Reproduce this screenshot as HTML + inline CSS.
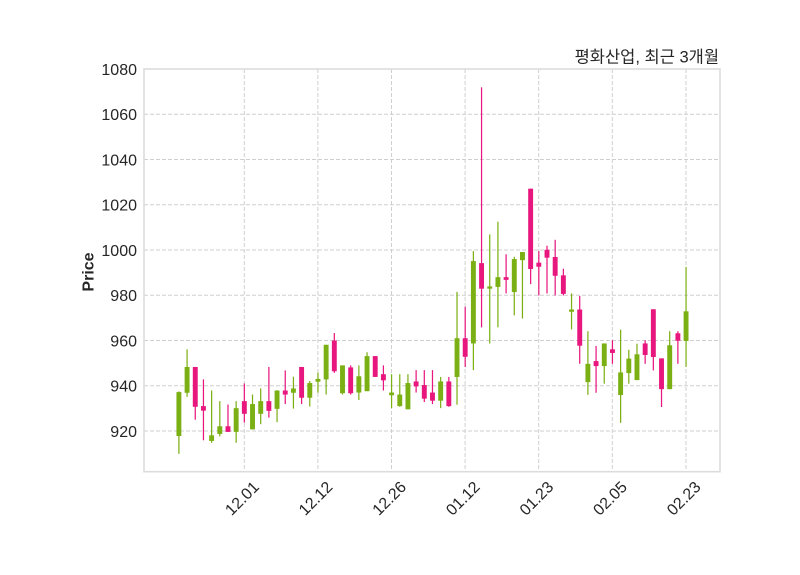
<!DOCTYPE html>
<html>
<head>
<meta charset="utf-8">
<style>
html,body{margin:0;padding:0;background:#fff;}
svg{display:block;}
.g{fill:#7bb014;}
.p{fill:#e8177e;}
text{font-family:"Liberation Sans","NanumGothic",sans-serif;fill:#262626;}
</style>
</head>
<body>
<svg width="800" height="575" viewBox="0 0 800 575" xmlns="http://www.w3.org/2000/svg">
<rect x="0" y="0" width="800" height="575" fill="#fff"/>
<g stroke="#cfcfcf" stroke-width="1" stroke-dasharray="4,2" fill="none">
<line x1="144" y1="114.25" x2="720" y2="114.25"/>
<line x1="144" y1="159.5" x2="720" y2="159.5"/>
<line x1="144" y1="204.75" x2="720" y2="204.75"/>
<line x1="144" y1="250" x2="720" y2="250"/>
<line x1="144" y1="295.25" x2="720" y2="295.25"/>
<line x1="144" y1="340.5" x2="720" y2="340.5"/>
<line x1="144" y1="385.75" x2="720" y2="385.75"/>
<line x1="144" y1="431" x2="720" y2="431"/>
<line x1="244.3" y1="69" x2="244.3" y2="472"/>
<line x1="317.9" y1="69" x2="317.9" y2="472"/>
<line x1="391.5" y1="69" x2="391.5" y2="472"/>
<line x1="465.1" y1="69" x2="465.1" y2="472"/>
<line x1="538.7" y1="69" x2="538.7" y2="472"/>
<line x1="612.3" y1="69" x2="612.3" y2="472"/>
<line x1="686.0" y1="69" x2="686.0" y2="472"/>
</g>
<g transform="matrix(8.18 0 0 -2.2625 178.9 2512.5)">
<rect class="g" x="-0.075" y="909.9" width="0.15" height="27.6"/><rect class="g" x="-0.3" y="917.8" width="0.6" height="19.4"/>
<rect class="g" x="0.925" y="935.1" width="0.15" height="21.0"/><rect class="g" x="0.7" y="936.9" width="0.6" height="11.4"/>
<rect class="p" x="1.925" y="925.0" width="0.15" height="23.3"/><rect class="p" x="1.7" y="930.7" width="0.6" height="17.6"/>
<rect class="p" x="2.925" y="915.9" width="0.15" height="26.9"/><rect class="p" x="2.7" y="929.0" width="0.6" height="2.0"/>
<rect class="g" x="3.925" y="914.8" width="0.15" height="23.1"/><rect class="g" x="3.7" y="915.6" width="0.6" height="2.5"/>
<rect class="g" x="4.925" y="917.6" width="0.15" height="15.6"/><rect class="g" x="4.7" y="918.7" width="0.6" height="3.4"/>
<rect class="p" x="5.925" y="919.6" width="0.15" height="12.1"/><rect class="p" x="5.7" y="919.6" width="0.6" height="2.5"/>
<rect class="g" x="6.925" y="914.8" width="0.15" height="18.4"/><rect class="g" x="6.7" y="919.6" width="0.6" height="10.5"/>
<rect class="p" x="7.925" y="923.7" width="0.15" height="17.3"/><rect class="p" x="7.7" y="927.6" width="0.6" height="5.6"/>
<rect class="g" x="8.925" y="920.7" width="0.15" height="15.4"/><rect class="g" x="8.7" y="920.7" width="0.6" height="11.2"/>
<rect class="g" x="9.925" y="923.0" width="0.15" height="15.8"/><rect class="g" x="9.7" y="927.6" width="0.6" height="5.6"/>
<rect class="p" x="10.925" y="925.9" width="0.15" height="22.4"/><rect class="p" x="10.7" y="928.9" width="0.6" height="4.3"/>
<rect class="g" x="11.925" y="923.9" width="0.15" height="14.1"/><rect class="g" x="11.7" y="929.8" width="0.6" height="8.1"/>
<rect class="p" x="12.925" y="931.9" width="0.15" height="14.9"/><rect class="p" x="12.7" y="936.1" width="0.6" height="1.8"/>
<rect class="g" x="13.925" y="929.9" width="0.15" height="14.1"/><rect class="g" x="13.7" y="936.9" width="0.6" height="1.9"/>
<rect class="p" x="14.925" y="931.9" width="0.15" height="16.4"/><rect class="p" x="14.7" y="934.7" width="0.6" height="13.6"/>
<rect class="g" x="15.925" y="930.8" width="0.15" height="11.3"/><rect class="g" x="15.7" y="934.7" width="0.6" height="6.5"/>
<rect class="g" x="16.925" y="936.9" width="0.15" height="8.9"/><rect class="g" x="16.7" y="941.8" width="0.6" height="1.2"/>
<rect class="g" x="17.925" y="936.1" width="0.15" height="22.0"/><rect class="g" x="17.7" y="942.8" width="0.6" height="15.3"/>
<rect class="p" x="18.925" y="945.7" width="0.15" height="17.6"/><rect class="p" x="18.7" y="946.4" width="0.6" height="13.6"/>
<rect class="g" x="19.925" y="936.1" width="0.15" height="12.9"/><rect class="g" x="19.7" y="936.7" width="0.6" height="12.3"/>
<rect class="p" x="20.925" y="936.1" width="0.15" height="12.9"/><rect class="p" x="20.7" y="936.7" width="0.6" height="11.4"/>
<rect class="g" x="21.925" y="933.7" width="0.15" height="15.3"/><rect class="g" x="21.7" y="937.0" width="0.6" height="7.2"/>
<rect class="g" x="22.925" y="937.6" width="0.15" height="17.2"/><rect class="g" x="22.7" y="937.6" width="0.6" height="15.5"/>
<rect class="p" x="23.925" y="943.9" width="0.15" height="9.2"/><rect class="p" x="23.7" y="943.9" width="0.6" height="9.2"/>
<rect class="p" x="24.925" y="937.9" width="0.15" height="11.1"/><rect class="p" x="24.7" y="942.4" width="0.6" height="2.7"/>
<rect class="g" x="25.925" y="930.1" width="0.15" height="15.0"/><rect class="g" x="25.7" y="935.8" width="0.6" height="1.2"/>
<rect class="g" x="26.925" y="930.7" width="0.15" height="14.4"/><rect class="g" x="26.7" y="931.0" width="0.6" height="5.1"/>
<rect class="g" x="27.925" y="929.6" width="0.15" height="15.5"/><rect class="g" x="27.7" y="929.6" width="0.6" height="11.6"/>
<rect class="p" x="28.925" y="937.0" width="0.15" height="9.9"/><rect class="p" x="28.7" y="939.7" width="0.6" height="2.2"/>
<rect class="p" x="29.925" y="932.8" width="0.15" height="14.1"/><rect class="p" x="29.7" y="934.3" width="0.6" height="6.0"/>
<rect class="p" x="30.925" y="931.9" width="0.15" height="15.0"/><rect class="p" x="30.7" y="933.4" width="0.6" height="3.6"/>
<rect class="g" x="31.925" y="930.1" width="0.15" height="13.8"/><rect class="g" x="31.7" y="933.4" width="0.6" height="8.5"/>
<rect class="p" x="32.925" y="930.7" width="0.15" height="13.2"/><rect class="p" x="32.7" y="931.0" width="0.6" height="10.9"/>
<rect class="g" x="33.925" y="931.6" width="0.15" height="49.9"/><rect class="g" x="33.7" y="943.9" width="0.6" height="17.1"/>
<rect class="p" x="34.925" y="948.3" width="0.15" height="26.6"/><rect class="p" x="34.7" y="952.8" width="0.6" height="8.2"/>
<rect class="g" x="35.925" y="946.9" width="0.15" height="52.6"/><rect class="g" x="35.7" y="958.7" width="0.6" height="36.4"/>
<rect class="p" x="36.925" y="965.8" width="0.15" height="106.1"/><rect class="p" x="36.7" y="982.9" width="0.6" height="11.3"/>
<rect class="g" x="37.925" y="958.7" width="0.15" height="48.2"/><rect class="g" x="37.7" y="982.9" width="0.6" height="1.0"/>
<rect class="g" x="38.925" y="965.8" width="0.15" height="46.7"/><rect class="g" x="38.7" y="983.7" width="0.6" height="4.3"/>
<rect class="p" x="39.925" y="980.8" width="0.15" height="17.3"/><rect class="p" x="39.7" y="986.8" width="0.6" height="1.2"/>
<rect class="g" x="40.925" y="971.1" width="0.15" height="25.9"/><rect class="g" x="40.7" y="981.4" width="0.6" height="14.6"/>
<rect class="g" x="41.925" y="969.7" width="0.15" height="29.4"/><rect class="g" x="41.7" y="995.5" width="0.6" height="3.6"/>
<rect class="p" x="42.925" y="984.9" width="0.15" height="42.2"/><rect class="p" x="42.7" y="991.6" width="0.6" height="35.5"/>
<rect class="p" x="43.925" y="979.9" width="0.15" height="19.6"/><rect class="p" x="43.7" y="992.6" width="0.6" height="1.8"/>
<rect class="p" x="44.925" y="980.8" width="0.15" height="21.1"/><rect class="p" x="44.7" y="996.6" width="0.6" height="3.5"/>
<rect class="p" x="45.925" y="979.9" width="0.15" height="24.6"/><rect class="p" x="45.7" y="988.6" width="0.6" height="8.3"/>
<rect class="p" x="46.925" y="979.9" width="0.15" height="11.8"/><rect class="p" x="46.7" y="980.6" width="0.6" height="8.2"/>
<rect class="g" x="47.925" y="964.9" width="0.15" height="15.9"/><rect class="g" x="47.7" y="972.7" width="0.6" height="1.0"/>
<rect class="p" x="48.925" y="949.7" width="0.15" height="30.0"/><rect class="p" x="48.7" y="957.7" width="0.6" height="16.0"/>
<rect class="g" x="49.925" y="936.0" width="0.15" height="28.1"/><rect class="g" x="49.7" y="941.6" width="0.6" height="8.1"/>
<rect class="p" x="50.925" y="936.9" width="0.15" height="20.7"/><rect class="p" x="50.7" y="948.7" width="0.6" height="2.2"/>
<rect class="g" x="51.925" y="940.9" width="0.15" height="17.8"/><rect class="g" x="51.7" y="948.7" width="0.6" height="10.0"/>
<rect class="p" x="52.925" y="949.7" width="0.15" height="10.4"/><rect class="p" x="52.7" y="954.5" width="0.6" height="1.6"/>
<rect class="g" x="53.925" y="923.6" width="0.15" height="41.2"/><rect class="g" x="53.7" y="935.9" width="0.6" height="10.0"/>
<rect class="g" x="54.925" y="940.9" width="0.15" height="15.0"/><rect class="g" x="54.7" y="945.6" width="0.6" height="6.4"/>
<rect class="g" x="55.925" y="942.5" width="0.15" height="16.1"/><rect class="g" x="55.7" y="942.5" width="0.6" height="11.4"/>
<rect class="p" x="56.925" y="949.7" width="0.15" height="10.4"/><rect class="p" x="56.7" y="953.6" width="0.6" height="5.1"/>
<rect class="p" x="57.925" y="946.8" width="0.15" height="27.0"/><rect class="p" x="57.7" y="952.7" width="0.6" height="21.1"/>
<rect class="p" x="58.925" y="930.6" width="0.15" height="21.5"/><rect class="p" x="58.7" y="938.5" width="0.6" height="13.6"/>
<rect class="g" x="59.925" y="938.5" width="0.15" height="25.6"/><rect class="g" x="59.7" y="938.5" width="0.6" height="19.4"/>
<rect class="p" x="60.925" y="949.7" width="0.15" height="14.4"/><rect class="p" x="60.7" y="959.9" width="0.6" height="3.3"/>
<rect class="g" x="61.925" y="948.3" width="0.15" height="44.2"/><rect class="g" x="61.7" y="959.8" width="0.6" height="13.1"/>
</g>
<rect x="144" y="69" width="576" height="402.7" fill="none" stroke="#dcdcdc" stroke-width="1.6"/>
<g font-size="16" text-anchor="end">
<text x="137" y="75">1080</text>
<text x="137" y="120.2">1060</text>
<text x="137" y="165.4">1040</text>
<text x="137" y="210.6">1020</text>
<text x="137" y="255.9">1000</text>
<text x="137" y="301.1">980</text>
<text x="137" y="346.4">960</text>
<text x="137" y="391.6">940</text>
<text x="137" y="436.9">920</text>
</g>
<g font-size="16" text-anchor="end">
<text transform="translate(260,488) rotate(-45)">12.01</text>
<text transform="translate(333.6,488) rotate(-45)">12.12</text>
<text transform="translate(407.2,488) rotate(-45)">12.26</text>
<text transform="translate(480.8,488) rotate(-45)">01.12</text>
<text transform="translate(554.4,488) rotate(-45)">01.23</text>
<text transform="translate(628,488) rotate(-45)">02.05</text>
<text transform="translate(701.7,488) rotate(-45)">02.23</text>
</g>
<text transform="translate(93.5,272) rotate(-90)" font-size="16" font-weight="bold" text-anchor="middle">Price</text>
<text x="719" y="62.5" font-size="16.5" text-anchor="end" style="font-family:'Liberation Sans','Noto Sans CJK KR','NanumGothic',sans-serif;">평화산업, 최근 3개월</text>
</svg>
</body>
</html>
